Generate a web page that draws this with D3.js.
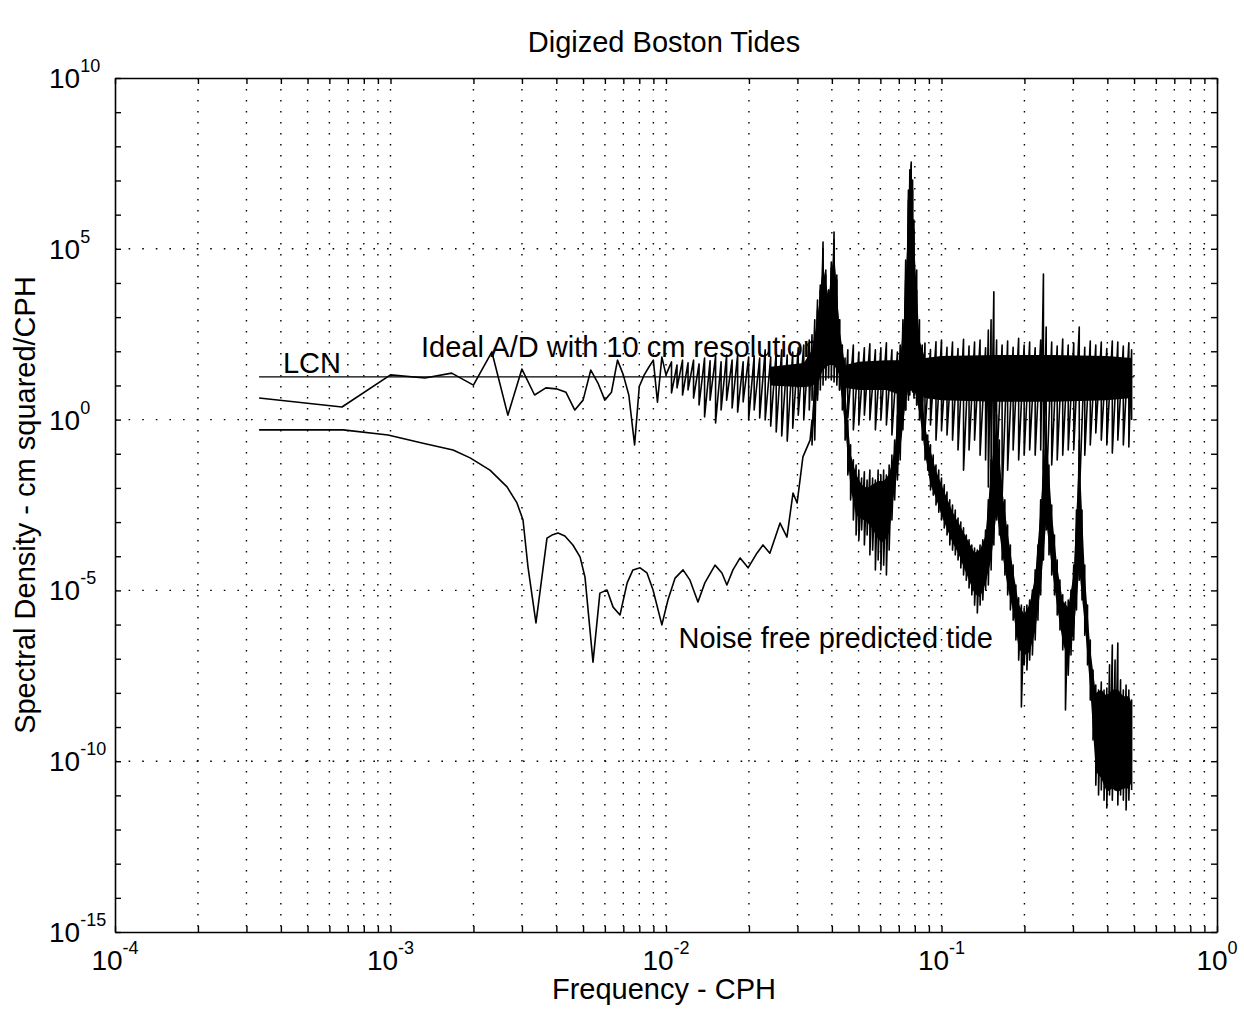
<!DOCTYPE html>
<html>
<head>
<meta charset="utf-8">
<script src="https://cdn.jsdelivr.net/npm/d3@7"></script>
<style>
  body { margin: 0; background: #fff; }
  svg { display: block; font-family: "Liberation Sans", Arial, Helvetica, sans-serif; }
</style>
</head>
<body>
<svg id="chart"></svg>
<script>
// Values.
// Every pair is [log10 frequency (CPH), log10 spectral density (cm^2/CPH)].

// "Ideal A/D" spectrum, first 30 harmonics (k/3000 CPH)
const adLow = [
  [-3.477, 0.63], [-3.176, 0.37], [-3.000, 1.31], [-2.875, 1.22], [-2.778, 1.36],
  [-2.699, 1.01], [-2.632, 1.98], [-2.574, 0.13], [-2.523, 1.48], [-2.477, 0.72],
  [-2.436, 0.93], [-2.398, 0.90], [-2.363, 0.80], [-2.331, 0.28], [-2.301, 0.57],
  [-2.273, 1.45], [-2.247, 1.07], [-2.222, 0.57], [-2.198, 0.80], [-2.176, 1.74],
  [-2.155, 1.31], [-2.135, 0.72], [-2.114, -0.74], [-2.097, 0.97], [-2.079, 1.31],
  [-2.062, 1.54], [-2.046, 1.74], [-2.031, 0.51], [-2.015, 1.83], [-2.000, 1.31]
];

// "Ideal A/D" dense part: [logF, upper swing, lower swing]
const adBand = [
  [-1.98, 1.69, 0.78], [-1.96, 1.60, 0.93], [-1.94, 1.74, 0.72], [-1.92, 1.66, 0.87],
  [-1.90, 1.74, 0.63], [-1.88, 1.63, 0.43], [-1.86, 1.80, 0.08], [-1.84, 1.72, 0.57],
  [-1.82, 1.86, -0.10], [-1.80, 1.69, 0.28], [-1.78, 1.89, 0.57], [-1.76, 1.74, 0.34],
  [-1.74, 1.89, 0.22], [-1.72, 1.69, 0.52], [-1.70, 1.83, -0.01], [-1.68, 1.86, 0.28],
  [-1.66, 1.80, 0.05], [-1.64, 2.04, -0.01], [-1.62, 1.83, -0.19], [-1.60, 1.98, -0.36],
  [-1.58, 2.04, -0.48], [-1.56, 1.89, -0.63], [-1.54, 1.98, -0.25], [-1.52, 2.10, 0.13],
  [-1.50, 2.18, -0.01], [-1.48, 2.33, 0.28], [-1.47, 2.48, 0.57], [-1.46, 2.92, 0.72],
  [-1.45, 3.50, 0.72], [-1.44, 3.94, 0.87], [-1.43, 5.20, 1.01], [-1.42, 4.38, 1.16],
  [-1.41, 3.79, 1.22], [-1.40, 4.61, 1.16], [-1.39, 5.49, 1.10], [-1.38, 4.23, 1.01],
  [-1.37, 2.92, 0.87], [-1.36, 2.18, 0.72], [-1.35, 1.80, 0.57], [-1.34, 2.04, 0.05],
  [-1.32, 2.18, -0.30], [-1.30, 1.98, -0.16], [-1.28, 2.10, 0.13], [-1.26, 2.22, -0.01],
  [-1.24, 2.04, -0.30], [-1.22, 2.10, -0.01], [-1.20, 2.25, -0.16], [-1.18, 2.04, -0.45],
  [-1.16, 1.98, -0.60], [-1.15, 2.18, -0.60], [-1.14, 2.92, -0.01], [-1.13, 4.09, 0.28],
  [-1.12, 6.43, 0.57], [-1.115, 7.31, 0.72], [-1.11, 7.54, 0.87], [-1.105, 7.01, 0.81],
  [-1.10, 5.84, 0.63], [-1.09, 4.38, 0.43], [-1.08, 2.92, 0.28], [-1.07, 2.18, -0.01],
  [-1.06, 2.24, -0.30], [-1.04, 2.05, -0.16], [-1.02, 2.28, -0.60], [-1.00, 2.33, -0.30],
  [-0.98, 2.12, -0.45], [-0.96, 2.27, -0.60], [-0.94, 2.08, -0.89], [-0.92, 2.35, -1.48],
  [-0.90, 2.15, -0.89], [-0.88, 2.27, -0.60], [-0.86, 2.33, -1.04], [-0.84, 2.10, -1.18],
  [-0.83, 2.62, -1.97], [-0.82, 2.92, -1.48], [-0.81, 3.74, -1.18], [-0.80, 2.33, -1.48],
  [-0.78, 2.18, -2.27], [-0.76, 2.30, -1.48], [-0.74, 2.12, -0.89], [-0.72, 2.38, -1.18],
  [-0.70, 2.18, -1.04], [-0.68, 2.27, -0.89], [-0.66, 2.10, -1.04], [-0.64, 2.33, -0.89],
  [-0.63, 4.26, -1.48], [-0.62, 2.71, -2.27], [-0.60, 2.27, -1.33], [-0.58, 2.15, -1.18],
  [-0.56, 2.36, -1.04], [-0.54, 2.18, -0.89], [-0.52, 2.24, -0.89], [-0.50, 2.71, -2.35],
  [-0.48, 2.12, -1.04], [-0.46, 2.30, -0.74], [-0.44, 2.18, -0.39], [-0.42, 2.27, -0.60],
  [-0.40, 2.08, -0.74], [-0.38, 2.30, -0.98], [-0.36, 2.27, -0.60], [-0.34, 2.15, -0.74],
  [-0.32, 2.25, -0.80], [-0.31, 2.04, -0.01]
];

// "Ideal A/D" solid core of the dense trace: [logF, top, bottom]
const adCore = [
  [-1.62, 1.55, 1.00], [-1.50, 1.66, 0.95], [-1.47, 2.04, 0.98], [-1.45, 2.92, 1.10],
  [-1.43, 4.53, 1.45], [-1.41, 3.50, 1.60], [-1.39, 4.96, 1.60], [-1.37, 2.62, 1.31],
  [-1.35, 1.60, 0.93], [-1.30, 1.69, 0.87], [-1.20, 1.74, 0.87], [-1.15, 1.74, 0.72],
  [-1.13, 3.50, 0.72], [-1.12, 5.55, 1.01], [-1.11, 7.01, 1.45], [-1.10, 5.26, 1.01],
  [-1.09, 3.79, 0.87], [-1.08, 2.33, 0.81], [-1.06, 1.80, 0.63], [-1.00, 1.86, 0.57],
  [-0.80, 1.89, 0.52], [-0.60, 1.89, 0.52], [-0.40, 1.86, 0.57], [-0.31, 1.80, 0.63]
];

// Noise free predicted tide, smooth low-frequency part
const tideLow = [
  [-3.477, -0.30], [-3.172, -0.30], [-3.009, -0.45], [-2.882, -0.69], [-2.773, -0.89],
  [-2.711, -1.12], [-2.639, -1.48], [-2.577, -1.97], [-2.541, -2.44], [-2.519, -2.94],
  [-2.501, -4.31], [-2.472, -5.95], [-2.432, -3.47], [-2.414, -3.38], [-2.392, -3.32],
  [-2.367, -3.41], [-2.338, -3.67], [-2.312, -4.02], [-2.294, -4.61], [-2.265, -7.10],
  [-2.240, -5.08], [-2.214, -4.99], [-2.192, -5.49], [-2.167, -5.72], [-2.141, -4.78],
  [-2.120, -4.40], [-2.094, -4.34], [-2.069, -4.49], [-2.047, -4.99], [-2.015, -6.01],
  [-1.993, -5.28], [-1.967, -4.64], [-1.938, -4.40], [-1.913, -4.70], [-1.884, -5.34],
  [-1.859, -4.78], [-1.822, -4.26], [-1.797, -4.49], [-1.779, -4.84], [-1.757, -4.40],
  [-1.731, -4.05], [-1.702, -4.34], [-1.670, -3.91], [-1.648, -3.67], [-1.623, -3.91],
  [-1.586, -3.03], [-1.561, -3.44], [-1.539, -2.15], [-1.524, -2.44], [-1.503, -1.09],
  [-1.477, -0.60]
];

// Noise free predicted tide, dense part: [logF, upper swing, lower swing]
const tideBand = [
  [-1.47, -0.01, -0.74], [-1.46, 1.07, -0.60], [-1.45, 3.21, 0.57], [-1.44, 3.79, 1.16],
  [-1.43, 4.96, 1.45], [-1.42, 4.23, 1.60], [-1.41, 3.79, 1.74], [-1.40, 4.44, 1.74],
  [-1.39, 5.26, 1.89], [-1.38, 4.09, 1.45], [-1.37, 2.92, 0.87], [-1.36, 2.04, 0.28],
  [-1.35, 1.16, -0.60], [-1.34, -0.01, -1.62], [-1.33, -0.74, -2.35], [-1.32, -1.18, -2.94],
  [-1.31, -1.33, -3.38], [-1.30, -1.48, -3.52], [-1.29, -1.71, -3.23], [-1.28, -1.53, -3.67],
  [-1.27, -1.77, -3.38], [-1.26, -1.48, -3.96], [-1.25, -1.71, -3.82], [-1.24, -1.77, -4.40],
  [-1.23, -1.48, -4.11], [-1.22, -1.62, -4.40], [-1.21, -1.48, -4.26], [-1.20, -1.62, -4.55],
  [-1.19, -1.33, -3.82], [-1.18, -1.04, -2.94], [-1.17, -0.60, -2.35], [-1.16, 0.13, -1.77],
  [-1.15, 1.01, -1.18], [-1.14, 2.62, -0.30], [-1.13, 4.67, 0.28], [-1.12, 6.72, 0.72],
  [-1.115, 7.16, 0.87], [-1.11, 7.45, 1.01], [-1.105, 6.72, 0.93], [-1.10, 5.55, 0.72],
  [-1.09, 3.79, 0.43], [-1.08, 2.04, -0.01], [-1.07, 0.72, -0.60], [-1.06, -0.01, -1.18],
  [-1.05, -0.45, -1.48], [-1.04, -0.74, -2.06], [-1.03, -1.04, -2.21], [-1.02, -1.33, -2.50],
  [-1.01, -1.48, -2.71], [-1.00, -1.71, -2.94], [-0.99, -1.91, -3.17], [-0.98, -2.12, -3.38],
  [-0.97, -2.35, -3.67], [-0.96, -2.50, -3.82], [-0.95, -2.65, -3.96], [-0.94, -2.88, -4.11],
  [-0.93, -3.00, -4.34], [-0.92, -3.17, -4.55], [-0.91, -3.38, -4.70], [-0.90, -3.52, -4.93],
  [-0.89, -3.67, -5.13], [-0.88, -3.76, -5.43], [-0.87, -3.82, -5.66], [-0.86, -3.67, -5.43],
  [-0.85, -3.52, -5.28], [-0.84, -3.23, -4.99], [-0.83, -2.35, -4.84], [-0.82, -1.18, -4.40],
  [-0.81, -0.16, -3.67], [-0.80, 0.13, -2.94], [-0.79, -0.60, -3.38], [-0.78, -1.77, -4.11],
  [-0.77, -2.35, -4.55], [-0.76, -3.09, -5.13], [-0.75, -3.67, -5.57], [-0.74, -4.26, -5.87],
  [-0.73, -4.84, -6.45], [-0.72, -5.22, -7.04], [-0.71, -5.43, -8.41], [-0.70, -5.52, -7.18],
  [-0.69, -5.43, -7.33], [-0.68, -5.28, -7.04], [-0.67, -4.99, -6.89], [-0.66, -4.40, -6.45],
  [-0.65, -3.67, -5.87], [-0.64, -2.35, -5.13], [-0.63, -0.89, -4.11], [-0.62, -0.01, -3.23],
  [-0.61, -1.33, -3.96], [-0.60, -2.50, -4.55], [-0.59, -3.38, -5.13], [-0.58, -4.11, -5.72],
  [-0.57, -4.70, -6.16], [-0.56, -5.13, -6.74], [-0.55, -5.34, -8.50], [-0.54, -5.28, -7.48],
  [-0.53, -4.99, -6.89], [-0.52, -4.26, -6.45], [-0.51, -2.65, -5.57], [-0.50, -0.60, -4.70],
  [-0.49, -2.65, -5.28], [-0.48, -4.26, -6.31], [-0.47, -5.43, -7.18], [-0.46, -6.45, -8.21],
  [-0.45, -7.33, -9.38], [-0.44, -7.77, -10.70], [-0.43, -7.92, -10.99], [-0.42, -7.68, -10.84],
  [-0.41, -7.92, -11.14], [-0.40, -7.86, -11.37], [-0.39, -7.18, -10.99], [-0.38, -6.60, -11.14],
  [-0.37, -7.04, -10.84], [-0.36, -6.54, -11.28], [-0.35, -7.62, -10.99], [-0.34, -7.92, -11.14],
  [-0.33, -7.77, -11.43], [-0.32, -7.92, -11.14], [-0.31, -8.21, -10.84]
];

// Noise free predicted tide, solid core: [logF, top, bottom]
const tideCore = [
  [-1.47, 0.0, -0.5], [-1.45, 2.9, 0.9], [-1.43, 4.5, 1.8], [-1.41, 3.5, 2.0],
  [-1.39, 4.8, 2.2], [-1.37, 2.6, 1.2], [-1.35, 0.9, -0.2], [-1.33, -1.0, -2.0],
  [-1.31, -1.6, -2.8], [-1.29, -1.9, -2.9], [-1.27, -2.0, -3.0], [-1.25, -1.9, -3.2],
  [-1.23, -1.8, -3.5], [-1.21, -1.8, -3.6], [-1.19, -1.6, -3.3], [-1.17, -0.9, -2.0],
  [-1.15, 0.7, -0.9], [-1.13, 4.0, 0.5], [-1.12, 6.0, 0.9], [-1.11, 7.0, 1.2],
  [-1.10, 5.0, 0.9], [-1.09, 3.4, 0.6], [-1.08, 1.8, 0.2], [-1.06, -0.2, -1.0],
  [-1.04, -0.9, -1.9], [-1.02, -1.5, -2.3], [-1.00, -1.9, -2.8], [-0.98, -2.3, -3.2],
  [-0.96, -2.7, -3.6], [-0.94, -3.0, -3.9], [-0.92, -3.3, -4.3], [-0.90, -3.6, -4.7],
  [-0.88, -3.9, -5.1], [-0.86, -3.8, -5.2], [-0.84, -3.4, -4.8], [-0.82, -1.5, -4.1],
  [-0.80, -0.1, -2.7], [-0.78, -2.0, -3.9], [-0.76, -3.3, -4.9], [-0.74, -4.4, -5.6],
  [-0.72, -5.4, -6.7], [-0.70, -5.7, -6.9], [-0.68, -5.4, -6.8], [-0.66, -4.6, -6.2],
  [-0.64, -2.6, -4.9], [-0.62, -0.3, -3.0], [-0.60, -2.7, -4.3], [-0.58, -4.3, -5.5],
  [-0.56, -5.3, -6.5], [-0.54, -5.5, -7.1], [-0.52, -4.5, -6.2], [-0.50, -0.9, -4.4],
  [-0.48, -4.5, -6.0], [-0.46, -6.7, -7.9], [-0.44, -8.0, -10.3], [-0.42, -7.9, -10.5],
  [-0.40, -8.1, -10.9], [-0.38, -7.9, -10.8], [-0.36, -7.9, -10.9], [-0.34, -8.1, -10.8],
  [-0.32, -8.1, -10.8], [-0.31, -8.3, -10.6]
];

// LCN level (cm^2/CPH) and its frequency span (CPH)
const lcnLevel = 17.7;
const lcnSpan = [1 / 3000, 0.5];

const xDecades = [-4, -3, -2, -1, 0];
const yDecades = [-15, -10, -5, 0, 5, 10];

const notes = [
  { text: "LCN", f: 4.07e-4, v: 23 },
  { text: "Ideal A/D with 10 cm resolution", f: 1.29e-3, v: 68 },
  { text: "Noise free predicted tide", f: 0.0111, v: 2.0e-7 }
];

const totalWidth = 1244, totalHeight = 1021;
const margin = { top: 78, right: 27, bottom: 89, left: 115 };

const svg = d3.select("#chart")
  .attr("width", totalWidth)
  .attr("height", totalHeight);

const x = d3.scaleLog().domain([1e-4, 1]).range([margin.left, totalWidth - margin.right]);
const y = d3.scaleLog().domain([1e-15, 1e10]).range([totalHeight - margin.bottom, margin.top]);
const p10 = v => Math.pow(10, v);

const [x0, x1] = x.range();
const [y0, y1] = y.range();

svg.append("clipPath").attr("id", "plot")
  .append("rect").attr("x", x0).attr("y", y1).attr("width", x1 - x0).attr("height", y0 - y1);

// grid
const xTicks = x.ticks();
svg.append("g").selectAll("line")
  .data(xTicks.filter(d => d > 1e-4 && d < 1))
  .join("line")
  .attr("x1", d => x(d)).attr("x2", d => x(d))
  .attr("y1", y1).attr("y2", y0)
  .attr("stroke", "#000").attr("stroke-width", 1.4)
  .attr("stroke-dasharray", "1.6,9.4");

svg.append("g").selectAll("line")
  .data(yDecades.slice(1, -1))
  .join("line")
  .attr("x1", x0).attr("x2", x1)
  .attr("y1", d => y(p10(d))).attr("y2", d => y(p10(d)))
  .attr("stroke", "#000").attr("stroke-width", 1.4)
  .attr("stroke-dasharray", "1.6,12");

// data
const plot = svg.append("g").attr("clip-path", "url(#plot)");
const line = d3.line().x(d => x(p10(d[0]))).y(d => y(p10(d[1])));
const zig = rows => rows.flatMap(r => [[r[0], r[1]], [r[0], r[2]]]);
const core = d3.area()
  .x(d => x(p10(d[0])))
  .y0(d => y(p10(d[2])))
  .y1(d => y(p10(d[1])));

plot.append("path").datum(adCore).attr("d", core).attr("fill", "#000");
plot.append("path").datum(tideCore).attr("d", core).attr("fill", "#000");

plot.append("path")
  .datum(adLow.concat(zig(adBand)))
  .attr("d", line).attr("fill", "none")
  .attr("stroke", "#000").attr("stroke-width", 1.6).attr("stroke-linejoin", "round");

plot.append("path")
  .datum(tideLow.concat(zig(tideBand)))
  .attr("d", line).attr("fill", "none")
  .attr("stroke", "#000").attr("stroke-width", 1.6).attr("stroke-linejoin", "round");

plot.append("line")
  .attr("x1", x(lcnSpan[0])).attr("x2", x(lcnSpan[1]))
  .attr("y1", y(lcnLevel)).attr("y2", y(lcnLevel))
  .attr("stroke", "#000").attr("stroke-width", 1.3);

// axes box + inward ticks
const yTickVals = d3.range(-15, 11).map(p10);
svg.append("g").attr("transform", `translate(0,${y0})`)
  .call(d3.axisBottom(x).tickValues(xTicks).tickSize(-6).tickSizeOuter(0).tickFormat(""));
svg.append("g").attr("transform", `translate(0,${y1})`)
  .call(d3.axisTop(x).tickValues(xTicks).tickSize(-6).tickSizeOuter(0).tickFormat(""));
svg.append("g").attr("transform", `translate(${x0},0)`)
  .call(d3.axisLeft(y).tickValues(yTickVals).tickSize(-6).tickSizeOuter(0).tickFormat(""));
svg.append("g").attr("transform", `translate(${x1},0)`)
  .call(d3.axisRight(y).tickValues(yTickVals).tickSize(-6).tickSizeOuter(0).tickFormat(""));
svg.selectAll(".domain").attr("stroke", "#000").attr("stroke-width", 1.6);
svg.selectAll(".tick line").attr("stroke", "#000").attr("stroke-width", 1.4);

// tick labels: 10 with superscript exponent
function power(sel, e) {
  sel.append("tspan").text("10");
  sel.append("tspan").attr("dy", -16).attr("font-size", 18).text(e);
}
xDecades.forEach(e => {
  svg.append("text")
    .attr("x", x(p10(e))).attr("y", y0 + 38)
    .attr("text-anchor", "middle").attr("font-size", 28)
    .call(power, String(e));
});
yDecades.forEach(e => {
  svg.append("text")
    .attr("x", x0 - 66).attr("y", y(p10(e)) + 10)
    .attr("font-size", 28)
    .call(power, String(e));
});

// titles
svg.append("text")
  .attr("x", (x0 + x1) / 2 - 2).attr("y", 52)
  .attr("text-anchor", "middle").attr("font-size", 29)
  .text("Digized Boston Tides");
svg.append("text")
  .attr("x", (x0 + x1) / 2 - 2).attr("y", 999)
  .attr("text-anchor", "middle").attr("font-size", 29)
  .text("Frequency - CPH");
svg.append("text")
  .attr("transform", `translate(35,${(y0 + y1) / 2}) rotate(-90)`)
  .attr("text-anchor", "middle").attr("font-size", 29)
  .text("Spectral Density - cm squared/CPH");

// annotations
svg.append("g").selectAll("text")
  .data(notes)
  .join("text")
  .attr("x", d => x(d.f)).attr("y", d => y(d.v))
  .attr("font-size", 29)
  .text(d => d.text);
</script>
</body>
</html>
